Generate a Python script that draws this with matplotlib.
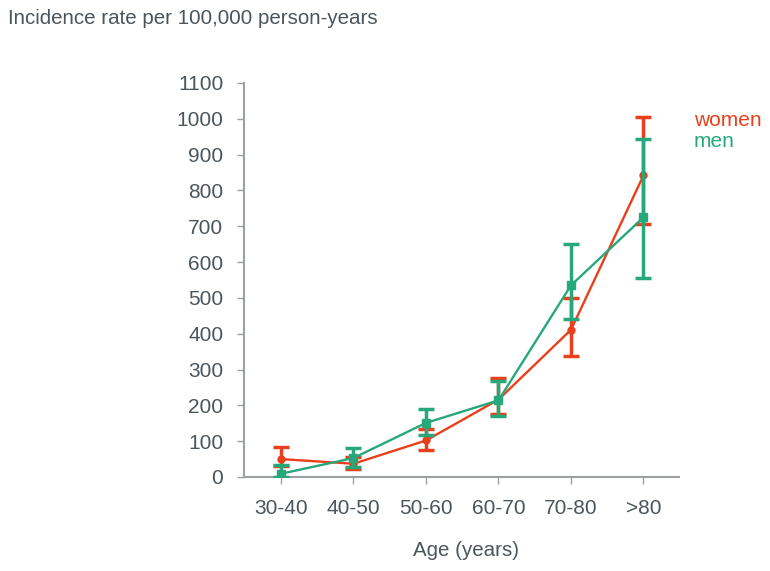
import numpy as np
from matplotlib import pyplot as plt

# age groups and incidence values
ages = ['30-40', '40-50', '50-60', '60-70', '70-80', '>80']
women = [50, 37, 102, 216, 411, 842]
women_lo = [31, 23, 76, 177, 337, 706]
women_hi = [84, 55, 134, 276, 500, 1005]
men = [9, 53, 151, 214, 535, 725]
men_lo = [0, 29, 118, 169, 440, 556]
men_hi = [34, 81, 190, 269, 651, 944]

red = '#e8401c'
green = '#27a87a'
txt = '#4a555c'
axc = '#9aa0a3'

plt.rcParams['font.family'] = ['Liberation Sans', 'DejaVu Sans']

fig = plt.figure(figsize=(7.7, 5.71), dpi=100)
ax = fig.add_axes([244/770, 94/571, 435/770, 394/571])

x = np.arange(len(ages))
w = np.array(women)
m = np.array(men)
w_err = [w - np.array(women_lo), np.array(women_hi) - w]
m_err = [m - np.array(men_lo), np.array(men_hi) - m]

ax.errorbar(x, w, yerr=w_err, color=red, marker='o', ms=5, lw=1.7,
            elinewidth=2.5, capsize=6, capthick=2.5, zorder=3)
ax.errorbar(x, m, yerr=m_err, color=green, marker='s', ms=5.5, lw=1.7,
            elinewidth=2.5, capsize=6, capthick=2.5, zorder=4)

ax.set_xlim(-0.51, 5.49)
ax.set_ylim(0, 1100)
ax.set_yticks(range(0, 1101, 100))
ax.set_xticks(x)
ax.set_xticklabels(ages)

for s in ['top', 'right']:
    ax.spines[s].set_visible(False)
for s in ['left', 'bottom']:
    ax.spines[s].set_color(axc)
    ax.spines[s].set_linewidth(1.5)
ax.tick_params(colors=axc, labelcolor=txt, labelsize=15, length=5, width=1)
ax.tick_params(axis='x', pad=11)
ax.tick_params(axis='y', pad=10)

fig.text(8/770, 1 - 18/571, 'Incidence rate per 100,000 person-years',
         color=txt, fontsize=14.8, va='center', ha='left')
fig.text(466/770, 1 - 550/571, 'Age (years)', color=txt, fontsize=14.8,
         va='center', ha='center')
fig.text(694/770, 1 - 121/571, 'women', color=red, fontsize=15, va='center')
fig.text(694/770, 1 - 141/571, 'men', color=green, fontsize=15, va='center')

fig.savefig('out.png', dpi=100)
